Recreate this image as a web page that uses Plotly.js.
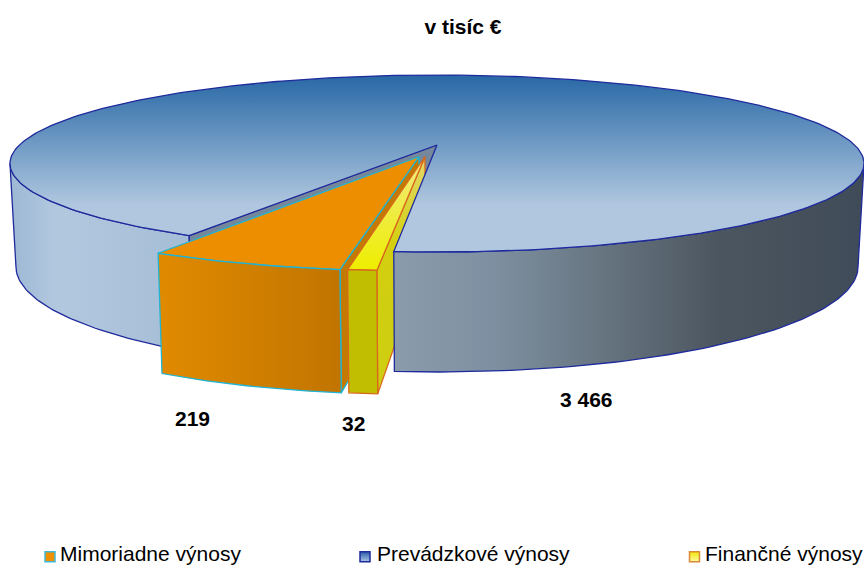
<!DOCTYPE html>
<html><head><meta charset="utf-8">
<script src="https://cdn.plot.ly/plotly-3.0.1.min.js"></script>
<style>html,body{margin:0;padding:0;background:#fff}#c{width:864px;height:565px}</style>
</head><body><div id="c"></div>
<script>
const categories = ['Mimoriadne výnosy', 'Prevádzkové výnosy', 'Finančné výnosy'];
const values = [219, 3466, 32];
const valueLabels = ['219', '3 466', '32'];
const chartTitle = 'v tisíc €';

// projection of the tilted pie onto the page
const W = 864, H = 565, cx = 437, cy = 145, rx = 417.6, ry = 84.6, persp = 0.209, depth = 99.5;
const total = values.reduce((a, b) => a + b, 0);
const deg = v => v / total * 360;
const startAngle = 4.7;
const finA = [startAngle, startAngle + deg(values[2])];
const mimA = [finA[1], finA[1] + deg(values[0])];
const mainA = [mimA[1], mimA[1] + deg(values[1])];
const silhouette = 78;

function proj(X, Y, low) {
  const d = 1 + persp * Y;
  const shrink = low ? 0.986 : 1;
  return [cx + rx * X / d * shrink, cy - ry * Y / d + (low ? depth / Math.pow(d, 0.8) : 0)];
}
function rim(t, off, low) {
  const r = t * Math.PI / 180;
  return proj(-Math.sin(r) + off[0], -Math.cos(r) + off[1], low);
}
function arc(a, b, off, low) {
  const n = Math.max(2, Math.ceil(Math.abs(b - a))), pts = [];
  for (let i = 0; i <= n; i++) pts.push(rim(a + (b - a) * i / n, off, low));
  return pts;
}
function topFace(a, b, off) { return [proj(off[0], off[1], false), ...arc(a, b, off, false), proj(off[0], off[1], false)]; }
function outerWall(a, b, off) { const p = [...arc(a, b, off, false), ...arc(b, a, off, true)]; p.push(p[0]); return p; }
function cutWall(t, off) {
  const p = [proj(off[0], off[1], false), rim(t, off, false), rim(t, off, true), proj(off[0], off[1], true)];
  p.push(p[0]); return p;
}
function poly(pts, lineColor, grad, solid, lw) {
  const tr = { x: pts.map(p => p[0]), y: pts.map(p => p[1]), mode: 'lines', fill: 'toself',
    line: { color: lineColor, width: lw || 1.3 }, showlegend: false, hoverinfo: 'skip' };
  if (grad) tr.fillgradient = grad; else tr.fillcolor = solid;
  return tr;
}
const H_ = (start, stop, stops) => ({ type: 'horizontal', start, stop, colorscale: stops });
const V_ = (start, stop, stops) => ({ type: 'vertical', start, stop, colorscale: stops });

const none = [0, 0], offMim = [-0.042, -0.135], offFin = [-0.028, -0.135];
const blueLine = '#1f2a9c', cyanLine = '#1fb4d6', redLine = '#d9681c';

const traces = [
  poly(outerWall(mainA[0], silhouette, none), blueLine,
    H_(10, 200, [[0, '#9db8d4'], [0.25, '#b2c8df'], [1, '#a4bcd5']])),
  poly(cutWall(mainA[0], none), blueLine, null, '#74879b'),
  poly(cutWall(mimA[0], offMim), cyanLine, null, '#c47a00'),
  poly(topFace(mimA[0], mimA[1], offMim), cyanLine, null, '#ec8e00'),
  poly(outerWall(mimA[0], mimA[1], offMim), cyanLine, H_(160, 345, [[0, '#e08a00'], [1, '#c07400']])),
  poly(cutWall(finA[0], offFin), redLine, V_(158, 300, [[0, '#e2d86a'], [0.6, '#d4d010'], [1, '#d0ce10']])),
  poly(outerWall(-silhouette, startAngle, none), blueLine,
    H_(395, 864, [[0, '#8a9cac'], [0.215, '#7d8fa0'], [0.45, '#66747f'], [0.685, '#4c5660'], [1, '#3f4b58']])),
  poly(topFace(mainA[0], mainA[1], none), blueLine, V_(75, 205, [[0, '#2868a6'], [1, '#b0c7df']])),
  poly(topFace(finA[0], finA[1], offFin), redLine, V_(158, 270, [[0, '#f0ea80'], [1, '#eeee00']])),
  poly(outerWall(finA[0], finA[1], offFin), redLine, null, '#c1bd00'),
];

const swatch = [['#ee9000', '#3fb8d8', '#ee9000'], ['#2a5aa8', '#1f2a9c', '#a8c4e4'], ['#f0e800', '#d9883c', '#fdf8a0']];
[0, 1, 2].forEach(i => traces.push({
  x: [null], y: [null], mode: 'markers', name: categories[i], hoverinfo: 'skip',
  marker: { symbol: 'square', size: 10, color: swatch[i][0], line: { color: swatch[i][1], width: 1.5 },
    gradient: { type: 'vertical', color: swatch[i][2] } },
  legend: i === 0 ? 'legend' : 'legend' + (i + 1), showlegend: true
}));

const lgFont = { family: 'Liberation Sans, Arial, sans-serif', size: 21, color: '#000' };
const lg = px => ({ x: px / W, y: 1 - 553 / H, xref: 'paper', yref: 'paper', xanchor: 'left', yanchor: 'middle',
  font: lgFont, bgcolor: 'rgba(0,0,0,0)', borderwidth: 0, itemclick: false, itemdoubleclick: false });

const lblFont = { family: 'Liberation Sans, Arial, sans-serif', size: 21, color: '#000' };
const lbl = (t, x, y) => ({ text: '<b>' + t + '</b>', x, y, xref: 'x', yref: 'y', showarrow: false, font: lblFont });

const layout = {
  width: W, height: H, margin: { l: 0, r: 0, t: 0, b: 0, autoexpand: false }, paper_bgcolor: '#fff', plot_bgcolor: '#fff',
  title: { text: '<b>' + chartTitle + '</b>', x: 463 / W, y: 1 - 27 / H, xref: 'paper', yref: 'paper', xanchor: 'center', yanchor: 'middle',
    automargin: false, font: { family: 'Liberation Sans, Arial, sans-serif', size: 21, color: '#000' } },
  xaxis: { range: [0, W], visible: false, fixedrange: true },
  yaxis: { range: [H, 0], visible: false, fixedrange: true },
  legend: lg(20), legend2: lg(337), legend3: lg(665),
  annotations: [lbl(valueLabels[0], 192, 418), lbl(valueLabels[2], 353, 423), lbl(valueLabels[1], 586, 399)],
  hovermode: false
};
const swatchShift = [10, 8, 9.5];
Plotly.newPlot('c', traces, layout, { displayModeBar: false, staticPlot: true }).then(gd => {
  gd.querySelectorAll('.legendpoints').forEach((el, i) => el.setAttribute('transform', 'translate(' + swatchShift[i % 3] + ',4)'));
});
</script></body></html>
